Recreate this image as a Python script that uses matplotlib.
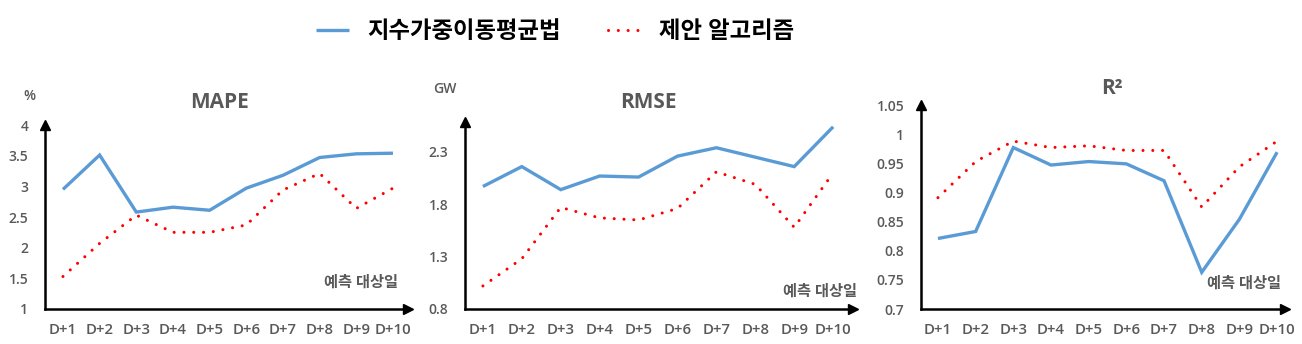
import numpy as np
import matplotlib
matplotlib.use('Agg')
import matplotlib.pyplot as plt

plt.rcParams['font.family'] = ['Open Sans', 'Noto Sans CJK KR', 'DejaVu Sans']

days = ['D+1', 'D+2', 'D+3', 'D+4', 'D+5', 'D+6', 'D+7', 'D+8', 'D+9', 'D+10']
series_names = ['지수가중이동평균법', '제안 알고리즘']
xlabel_text = '예측 대상일'

# MAPE [%]
mape_ewma = [2.95, 3.51, 2.58, 2.66, 2.61, 2.97, 3.18, 3.47, 3.53, 3.54]
mape_prop = [1.53, 2.07, 2.53, 2.25, 2.25, 2.37, 2.94, 3.21, 2.64, 2.97]
mape_ticks = [1, 1.5, 2, 2.5, 3, 3.5, 4]
mape_ticklabels = ['1', '1.5', '2', '2.5', '3', '3.5', '4']

# RMSE [GW]
rmse_ewma = [1.97, 2.16, 1.94, 2.07, 2.06, 2.26, 2.34, 2.25, 2.16, 2.54]
rmse_prop = [1.02, 1.28, 1.77, 1.67, 1.65, 1.76, 2.11, 1.99, 1.58, 2.10]
rmse_ticks = [0.8, 1.3, 1.8, 2.3]
rmse_ticklabels = ['0.8', '1.3', '1.8', '2.3']

# R^2
r2_ewma = [0.821, 0.833, 0.977, 0.947, 0.953, 0.949, 0.920, 0.763, 0.854, 0.969]
r2_prop = [0.891, 0.953, 0.988, 0.977, 0.980, 0.972, 0.972, 0.875, 0.944, 0.988]
r2_ticks = [0.7, 0.75, 0.8, 0.85, 0.9, 0.95, 1.0, 1.05]
r2_ticklabels = ['0.7', '0.75', '0.8', '0.85', '0.9', '0.95', '1', '1.05']

W, H = 1302, 344
BLUE = '#5B9BD5'
RED = '#FF0000'
GRAY = '#595959'

fig = plt.figure(figsize=(W / 100, H / 100), dpi=100)


def px_axes(x0, x1, ytop, ybot):
    return fig.add_axes([x0 / W, 1 - ybot / H, (x1 - x0) / W, (ybot - ytop) / H])


def fig_text(x, y, s, **kw):
    fig.text(x / W, 1 - y / H, s, **kw)


def panel(ax, ewma, prop, ylim, ticks, ticklabels, xlim, title, title_xy,
          unit=None, unit_xy=None, xl_xy=None):
    x = np.arange(len(days))
    l1, = ax.plot(x, ewma, color=BLUE, lw=2.4, solid_capstyle='butt',
                  solid_joinstyle='miter', label=series_names[0])
    l2, = ax.plot(x, prop, color=RED, lw=2.2, linestyle=(0, (0.01, 3.2)),
                  dash_capstyle='round', label=series_names[1])
    ax.set_xlim(*xlim)
    ax.set_ylim(*ylim)
    ax.set_xticks(x)
    ax.set_xticklabels(days)
    ax.set_yticks(ticks)
    ax.set_yticklabels(ticklabels)
    ax.tick_params(length=0, colors=GRAY, labelsize=10)
    ax.tick_params(axis='x', pad=10, labelsize=10.8)
    ax.tick_params(axis='y', pad=12)
    for lab in ax.get_xticklabels() + ax.get_yticklabels():
        lab.set_fontweight('semibold')
    for s in ['top', 'right']:
        ax.spines[s].set_visible(False)
    for s in ['left', 'bottom']:
        ax.spines[s].set_linewidth(1.8)
        ax.spines[s].set_color('black')
    ax.plot(1.0, 0, '>', color='black', ms=7, transform=ax.transAxes, clip_on=False)
    ax.plot(0, 1.0, '^', color='black', ms=7, transform=ax.transAxes, clip_on=False)
    ax.patch.set_alpha(0)
    fig_text(*title_xy, title, ha='center', va='center', fontsize=15,
             fontweight='bold', color=GRAY)
    if unit:
        fig_text(*unit_xy, unit, ha='center', va='center', fontsize=10,
                 fontweight='semibold', color=GRAY)
    fig_text(*xl_xy, xlabel_text, ha='right', va='center', fontsize=11,
             fontweight='bold', color=GRAY)
    return l1, l2


ax1 = px_axes(45, 408, 125, 309)
h1, h2 = panel(ax1, mape_ewma, mape_prop, (1, 4), mape_ticks, mape_ticklabels,
               (-0.49, 9.41), 'MAPE', (220, 102), '%', (29, 96), (398, 283))

ax2 = px_axes(465, 853, 122, 309)
panel(ax2, rmse_ewma, rmse_prop, (0.8, 2.586), rmse_ticks, rmse_ticklabels,
      (-0.46, 9.51), 'RMSE', (648, 102), 'GW', (445, 89), (857, 292))

ax3 = px_axes(921, 1285, 105, 309)
panel(ax3, r2_ewma, r2_prop, (0.7, 1.05), r2_ticks, r2_ticklabels,
      (-0.45, 9.21), 'R²', (1112, 88), None, None, (1281, 284))

leg = fig.legend([h1, h2], series_names, loc='center', ncol=2, frameon=False,
                 bbox_to_anchor=(555 / W, 1 - 32 / H), handlelength=1.4,
                 handletextpad=0.8, columnspacing=2.0,
                 prop={'size': 16.8, 'weight': 'bold'})

fig.savefig('out.png', dpi=100)
